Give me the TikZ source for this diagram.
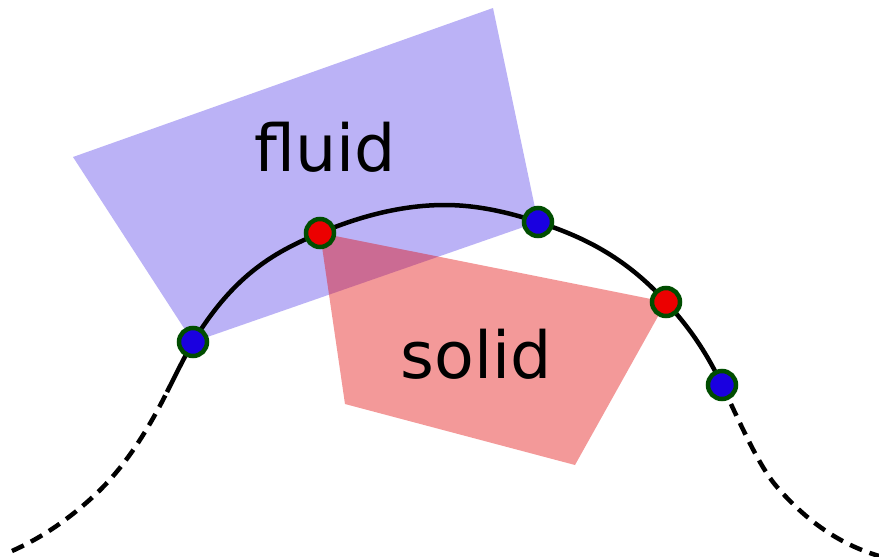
\documentclass[tikz,border=0pt]{standalone}
\usepackage{xcolor}
\usepackage{fontspec}
\usepackage{tikz}
\usetikzlibrary{calc}
\usetikzlibrary{shapes}
\setmainfont{DejaVu Sans}
\definecolor{fluidblue}{RGB}{30,0,224}
\definecolor{solidred}{RGB}{226,0,0}
\definecolor{dotblue}{RGB}{26,0,224}
\definecolor{dotred}{RGB}{236,0,0}
\definecolor{rimgreen}{RGB}{0,77,0}
\tikzstyle{fluidregion} = [fill=fluidblue, fill opacity=0.3]
\tikzstyle{solidregion} = [fill=solidred, fill opacity=0.4]
\tikzstyle{interface} = [draw=black, line width=4.5pt]
\tikzstyle{ghost} = [interface, dash pattern=on 13pt off 8pt]
\tikzstyle{bluedot} = [circle, draw=rimgreen, line width=4.5pt, fill=dotblue, minimum size=28pt, inner sep=0]
\tikzstyle{reddot} = [bluedot, fill=dotred]
\tikzstyle{regionlabel} = [draw=none, inner sep=0, anchor=base, font=\fontsize{65}{78}\selectfont]

\begin{document}
\begin{tikzpicture}[x=1pt, y=-1pt]
\useasboundingbox (0,0) rectangle (879,557);
% points on the interface
\coordinate (la) at (12,551);
\coordinate (lb) at (97,493);
\coordinate (lc) at (167,392);
\coordinate (bl) at (193,342);
\coordinate (rl) at (320,233);
\coordinate (top) at (445,205);
\coordinate (bm) at (538,222);
\coordinate (rr) at (666,302);
\coordinate (br) at (722,385);
\coordinate (rb) at (777,487);
\coordinate (ra) at (879,556);
% regions
\fill [fluidregion] (73,157) -- (493,8) -- (bm) -- (bl) -- cycle;
\fill [solidregion] (rl) -- (rr) -- (575,465) -- (345,404) -- cycle;
% interface
\draw [ghost] (la) .. controls (40.3,538.3) and (68.7,519.9) .. (lb)
  .. controls (120.3,470.8) and (143.7,438.7) .. (lc);
\draw [interface] (lc) .. controls (175.7,374.7) and (184.3,357.2) .. (bl)
  .. controls (235.3,272.2) and (277.7,250.8) .. (rl)
  .. controls (361.7,215.5) and (403.3,205) .. (top)
  .. controls (476,205) and (507,211.8) .. (bm)
  .. controls (580.7,236.1) and (623.3,255.1) .. (rr)
  .. controls (684.7,322.5) and (703.3,345.8) .. (br);
\draw [ghost] (br) .. controls (740.3,423.5) and (758.7,465.9) .. (rb)
  .. controls (811,526.1) and (845,545.8) .. (ra);
% markers
\node [bluedot] (bl dot) at (bl) {};
\node [reddot] (rl dot) at (rl) {};
\node [bluedot] (bm dot) at (bm) {};
\node [reddot] (rr dot) at (rr) {};
\node [bluedot] (br dot) at (br) {};
\node [regionlabel] (fluid) at (325,171) {fluid};
\node [regionlabel] (solid) at (476,378) {solid};
\end{tikzpicture}
\end{document}
